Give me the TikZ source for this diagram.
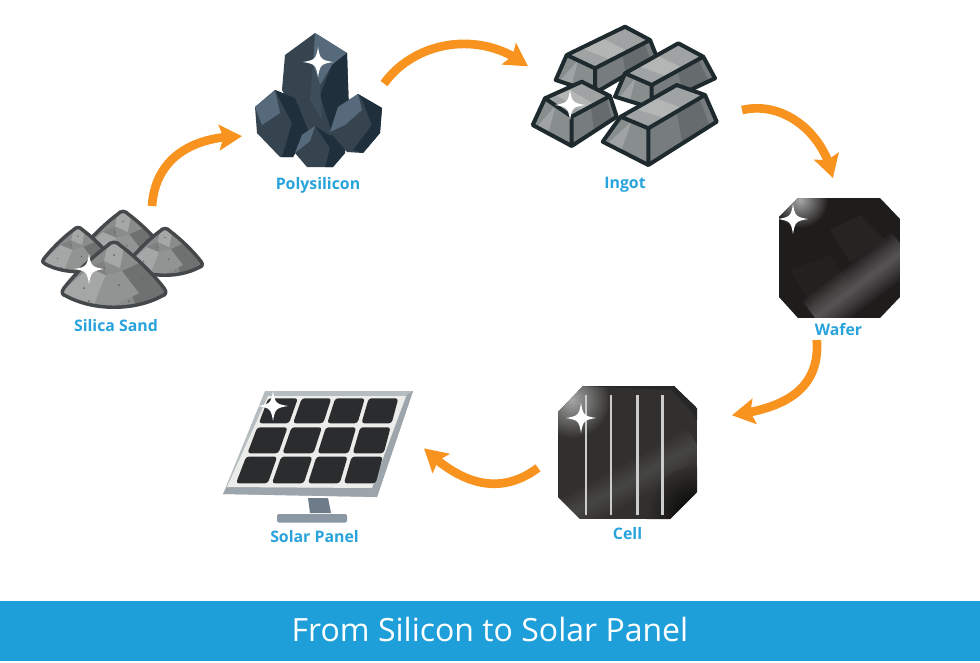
\documentclass[tikz,border=0pt]{standalone}
\usepackage{fontspec}
\setmainfont{Open Sans}
\usetikzlibrary{arrows.meta,bending,calc}

\definecolor{bandblue}{HTML}{1E9FD9}
\definecolor{labelblue}{HTML}{29A3DC}
\definecolor{flowOrange}{HTML}{F7931E}
\definecolor{sandline}{HTML}{45484A}
\definecolor{sandbase}{HTML}{8A8C8B}
\definecolor{sandlight}{HTML}{A5A7A6}
\definecolor{sanddark}{HTML}{6F7170}
\definecolor{sanddot}{HTML}{5F6160}
\definecolor{polybase}{HTML}{36444F}
\definecolor{polylight}{HTML}{566A7B}
\definecolor{polydark}{HTML}{1F2F3C}
\definecolor{ingotline}{HTML}{1F2A2E}
\definecolor{ingottop}{HTML}{9FA3A3}
\definecolor{ingotpale}{HTML}{B3B6B5}
\definecolor{ingotleft}{HTML}{888D8E}
\definecolor{ingotright}{HTML}{777C7F}
\definecolor{ingotdeep}{HTML}{666B6E}
\definecolor{waferbase}{HTML}{1F1D1C}
\definecolor{cellbase}{HTML}{31302E}
\definecolor{panelcell}{HTML}{2B2C2E}
\definecolor{panelframe}{HTML}{B6BDC1}
\definecolor{panelside}{HTML}{9CA5AB}
\definecolor{panelinner}{HTML}{ECECEA}
\definecolor{standneck}{HTML}{6E7C89}
\definecolor{standfoot}{HTML}{8B98A3}

\tikzset{
    iconbox/.style={inner sep=0pt,outer sep=0pt},
    steplabel/.style={text=labelblue,font=\fontsize{11.9}{14}\selectfont\bfseries},
    flow/.style={draw=flowOrange,line width=6.5pt,
        -{Stealth[length=17pt,width=19pt,inset=3pt,flex]}},
}

% Four-point white glint
\newcommand{\glint}[2]{%
    \fill[white] (#1,#2-15) .. controls (#1+2,#2-3) and (#1+3,#2-2) .. (#1+15,#2)
        .. controls (#1+3,#2+2) and (#1+2,#2+3) .. (#1,#2+15)
        .. controls (#1-2,#2+3) and (#1-3,#2+2) .. (#1-15,#2)
        .. controls (#1-3,#2-2) and (#1-2,#2-3) .. (#1,#2-15) -- cycle;
}

% Pile of sand, peak at (#1,#2)
\newcommand{\sandpile}[3]{%
    \begin{scope}[shift={(#1,#2)},scale=#3]
        \begin{scope}
            \clip (-7,3) .. controls (-3,-2) and (3,-2) .. (7,3) .. controls (22,14) and (40,32) .. (50,45)
                .. controls (53,49) and (52,52) .. (48,53) .. controls (20,68) and (-20,68) .. (-48,53)
                .. controls (-52,52) and (-53,49) .. (-50,45) .. controls (-40,32) and (-22,14) .. (-7,3) -- cycle;
            \fill[sandbase] (-60,-5) rectangle (60,70);
            \fill[sandlight] (-60,55) -- (-25,25) -- (-8,32) -- (-20,62) -- cycle;
            \fill[sandlight] (-5,-5) -- (10,5) -- (6,25) -- (-10,18) -- cycle;
            \fill[sanddark] (8,28) -- (30,18) -- (60,55) -- (25,70) -- cycle;
            \fill[sandbase!70!sandlight] (-8,32) -- (8,28) -- (25,50) -- (-5,65) -- (-20,62) -- cycle;
            \fill[sandbase!60!sanddark] (-25,25) -- (-10,18) -- (-8,32) -- cycle;
            \foreach \dotx/\doty in {-30/45,-10/25,5/42,15/58,28/35,-25/58,0/12}
                \fill[sanddot] (\dotx,\doty) circle (1);
        \end{scope}
        \draw[sandline,line width=2.6pt,line join=round]
            (-7,3) .. controls (-3,-2) and (3,-2) .. (7,3) .. controls (22,14) and (40,32) .. (50,45)
            .. controls (53,49) and (52,52) .. (48,53) .. controls (20,68) and (-20,68) .. (-48,53)
            .. controls (-52,52) and (-53,49) .. (-50,45) .. controls (-40,32) and (-22,14) .. (-7,3) -- cycle;
    \end{scope}
}

% One ingot: top face corners, then lower left, front, right
\newcommand{\ingot}[7]{%
    \coordinate (tl) at #1;
    \coordinate (tb) at #2;
    \coordinate (tr) at #3;
    \coordinate (tf) at #4;
    \coordinate (bl) at #5;
    \coordinate (bf) at #6;
    \coordinate (br) at #7;
    \fill[ingotleft] (tl) -- (tf) -- (bf) -- (bl) -- cycle;
    \fill[ingotright] (tf) -- (tr) -- (br) -- (bf) -- cycle;
    \fill[ingottop] (tl) -- (tb) -- (tr) -- (tf) -- cycle;
    \fill[ingotpale] ($(tl)!.25!(tb)$) -- ($(tl)!.6!(tb)$) -- ($(tf)!.6!(tr)$) -- ($(tf)!.3!(tr)$) -- cycle;
    \fill[ingottop] ($(tl)!.4!(tf)$) -- ($(bl)!.4!(bf)$) -- ($(bl)!.1!(bf)$) -- cycle;
    \fill[ingotdeep] ($(tf)!.5!(tr)$) -- ($(bf)!.5!(br)$) -- ($(bf)!.9!(br)$) -- ($(tf)!.9!(tr)$) -- cycle;
    \draw[ingotline,line width=3pt,line join=round]
        (tl) -- (tb) -- (tr) -- (br) -- (bf) -- (bl) -- cycle
        (tl) -- (tf) -- (tr) (tf) -- (bf);
}

\begin{document}
\begin{tikzpicture}[x=0.75pt,y=-0.75pt]
        \useasboundingbox (0,0) rectangle (980,662);
        \fill[white] (0,0) rectangle (980,662);

        % Bottom band
        \fill[bandblue] (0,601) rectangle (980,661);
        \node[text=white,font=\fontsize{24}{29}\selectfont] (title) at (490,629) {From Silicon to Solar Panel};

        % Silica sand
        \sandpile{123}{212}{0.8}
        \sandpile{78}{228}{0.68}
        \sandpile{165}{229}{0.72}
        \sandpile{114}{243}{1}
        \glint{89}{269}

        % Polysilicon
        \fill[polydark] (295,110) -- (350,110) -- (345,153) -- (300,153) -- cycle;
        \fill[polybase] (315,33) -- (347,53) -- (349,113) -- (332,135) -- (308,135) -- (282,90) -- (285,55) -- cycle;
        \fill[polylight] (315,33) -- (347,53) -- (332,65) -- (320,85) -- (313,65) -- cycle;
        \fill[polydark] (347,53) -- (349,113) -- (331,130) -- (320,95) -- (332,65) -- cycle;
        \fill[polybase!75!polylight] (313,65) -- (320,85) -- (322,120) -- (310,100) -- cycle;
        \fill[polybase] (275,90) -- (295,98) -- (308,130) -- (293,157) -- (280,157) -- (257,133) -- (255,107) -- cycle;
        \fill[polylight] (255,107) -- (275,90) -- (280,113) -- (262,125) -- cycle;
        \fill[polydark] (275,90) -- (295,98) -- (308,130) -- (293,157) -- (282,157) -- (292,123) -- (280,100) -- cycle;
        \fill[polybase] (358,94) -- (382,108) -- (380,133) -- (363,153) -- (347,152) -- (330,132) -- (338,107) -- cycle;
        \fill[polylight] (338,107) -- (358,94) -- (362,110) -- (345,125) -- (330,132) -- cycle;
        \fill[polydark] (358,94) -- (382,108) -- (380,133) -- (363,153) -- (353,150) -- (372,125) -- (362,100) -- cycle;
        \fill[polybase] (315,126) -- (332,137) -- (345,153) -- (333,167) -- (307,167) -- (295,153) -- (302,135) -- cycle;
        \fill[polylight] (315,126) -- (302,135) -- (295,153) -- (310,141) -- cycle;
        \fill[polydark] (315,126) -- (332,137) -- (345,153) -- (333,167) -- (325,167) -- (330,148) -- cycle;
        \glint{318}{62}

        % Ingots, back to front
        \ingot{(566.7,55)}{(625,26.7)}{(650,40)}{(595,68.3)}{(555.7,80)}{(595,93)}{(656.7,56.7)}
        \ingot{(625,73.3)}{(678.3,43.3)}{(703.3,56.7)}{(651.7,85)}{(615,96.7)}{(651.7,108)}{(715,78.3)}
        \ingot{(545,98.3)}{(581.7,81.7)}{(610,96)}{(571.7,116.7)}{(532.7,125)}{(571.7,146)}{(616.7,116.7)}
        \ingot{(620.7,116.7)}{(676.7,85)}{(705,95)}{(648.3,128.3)}{(602.7,141.7)}{(648.3,165)}{(716.7,121.7)}
        \glint{570}{105}

        % Wafer
        \begin{scope}
            \clip (798,198) -- (880,198) -- (900,219) -- (900,297) -- (880,318) -- (798,318) -- (779,297) -- (779,217) -- cycle;
            \fill[waferbase] (779,198) rectangle (900,318);
            \fill[white,opacity=.03] (830,230) -- (860,215) -- (885,240) -- (850,262) -- cycle;
            \fill[white,opacity=.02] (790,270) -- (830,255) -- (850,285) -- (815,310) -- cycle;
            \shade[inner color=gray!70!white,outer color=waferbase] (800,200) circle (28);
            \foreach \bandw in {4,8,...,32}
                \draw[white,opacity=.035,line width=\bandw pt] (815,318) -- (905,250);
        \end{scope}
        \glint{793}{219}

        % Cell
        \begin{scope}
            \clip (583,386) -- (674,386) -- (697,408) -- (697,492) -- (670,519) -- (580,519) -- (558,497) -- (558,412) -- cycle;
            \fill[cellbase] (558,386) rectangle (697,519);
            \foreach \bandw in {4,8,...,28}
                \draw[white,opacity=.015,line width=\bandw pt] (570,515) -- (697,445);
            \shade[inner color=gray!70!white,outer color=cellbase] (572,400) circle (38);
            \shade[inner color=black,outer color=cellbase] (695,515) circle (48);
            \fill[black!85] (583,386) -- (674,386) -- (697,408) -- (697,420) -- (690,410) -- (672,390) -- cycle;
            \foreach \linex in {586,611,637.3,662.3}
                \fill[gray!40!white] (\linex-1.3,395) rectangle (\linex+1.3,515);
        \end{scope}
        \glint{581}{418}

        % Solar panel
        \fill[standneck] (308,498) -- (328,498) -- (331,513) -- (310,513) -- cycle;
        \fill[standfoot,rounded corners=1.5pt] (277,514) rectangle (347,522.5);
        \fill[panelframe] (265,391) -- (413,391) -- (377,497) -- (223,494) -- cycle;
        \fill[panelside] (413,391) -- (377,497) -- (372,488) -- (407,395) -- cycle;
        \fill[panelside] (223,494) -- (377,497) -- (372,488) -- (227,487) -- cycle;
        \fill[panelinner] (268,396) -- (406,396) -- (372,488) -- (227,487) -- cycle;
        \coordinate (TL) at (268.3,398.3);
        \coordinate (TR) at (398.3,398.3);
        \coordinate (BL) at (236,483.3);
        \coordinate (BR) at (375.7,483.3);
        \foreach \vtop/\vbot in {0/.294,.341/.647,.686/1} {
            \foreach \uleft/\uright in {0/.2275,.2575/.485,.515/.7425,.7725/1} {
                \fill[panelcell,rounded corners=2.2pt]
                    ($($(TL)!\vtop!(BL)$)!\uleft!($(TR)!\vtop!(BR)$)$) --
                    ($($(TL)!\vtop!(BL)$)!\uright!($(TR)!\vtop!(BR)$)$) --
                    ($($(TL)!\vbot!(BL)$)!\uright!($(TR)!\vbot!(BR)$)$) --
                    ($($(TL)!\vbot!(BL)$)!\uleft!($(TR)!\vbot!(BR)$)$) -- cycle;
            }
        }
        \glint{273}{406}

        % Step boxes round the drawings
        \node[iconbox,minimum width=127.5pt,minimum height=78pt] (sand) at (122,258) {};
        \node[iconbox,minimum width=106.5pt,minimum height=105pt] (poly) at (313,100) {};
        \node[iconbox,minimum width=160.5pt,minimum height=112.5pt] (ingot) at (635,95) {};
        \node[iconbox,minimum width=97.5pt,minimum height=121.5pt] (wafer) at (840,259) {};
        \node[iconbox,minimum width=145.5pt,minimum height=108.75pt] (cell) at (635,452.5) {};
        \node[iconbox,minimum width=156.75pt,minimum height=108.75pt] (panel) at (319.5,457.5) {};

        % Labels
        \node[steplabel] (sandlabel) at (116,326) {Silica Sand};
        \node[steplabel] (polylabel) at (318,185) {Polysilicon};
        \node[steplabel] (ingotlabel) at (625,185) {Ingot};
        \node[steplabel] (waferlabel) at (838.5,329) {Wafer};
        \node[steplabel] (celllabel) at (627.5,534) {Cell};
        \node[steplabel] (panellabel) at (314.5,537) {Solar Panel};

        % Connectors
        \draw[flow] (sand.60) .. controls +(3,-46) and +(-52,0) .. (poly.207);
        \draw[flow] (poly.13) .. controls +(30,-42) and +(-48,-38) .. (ingot.165);
        \draw[flow] (ingot.352) .. controls +(43,-10) and +(-8,-43) .. (wafer.95);
        \draw[flow] (wafer.254) .. controls +(4,55) and +(43,-6) .. (cell.21);
        \draw[flow] (cell.189) .. controls +(-43,32) and +(31,30) .. (panel.5);
\end{tikzpicture}
\end{document}
